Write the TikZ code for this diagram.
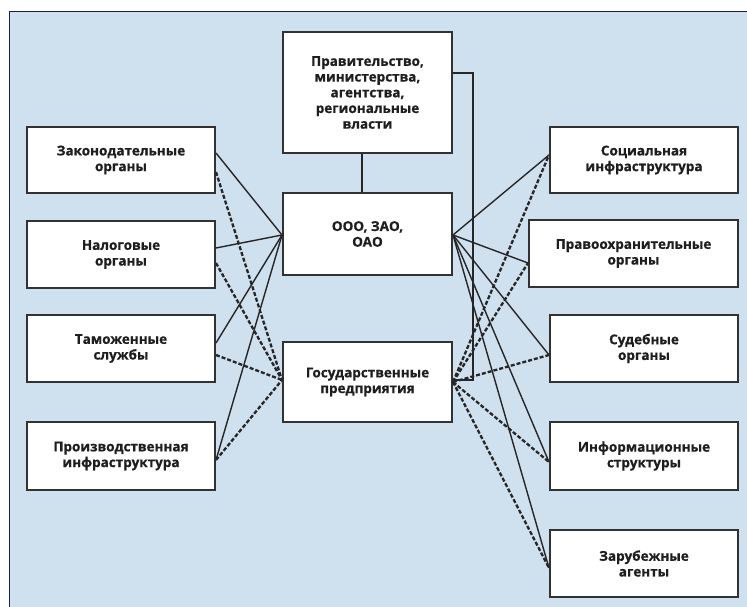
\documentclass[tikz,border=0pt]{standalone}
\usepackage{fontspec}
\setmainfont{Open Sans}[BoldFeatures={FakeBold=0.6}]
\usetikzlibrary{calc}
\definecolor{bgblue}{RGB}{207,224,239}
\definecolor{framenavy}{RGB}{30,30,70}
\definecolor{boxline}{RGB}{50,50,50}
\definecolor{txt}{RGB}{30,30,30}
\begin{document}
\begin{tikzpicture}[x=1pt,y=-1pt,
  box/.style={draw=boxline,line width=2pt,fill=white,align=center,text=txt,
    font=\fontsize{13.5}{15.7}\selectfont\bfseries,inner sep=0pt,
    minimum width=188pt,minimum height=66pt},
  solidln/.style={draw=black!85,line width=1.4pt},
  dashln/.style={draw=black!85,line width=2.3pt,dash pattern=on 4pt off 2pt}]
\useasboundingbox (0,0) rectangle (747,607);
\fill[bgblue] (9,12) rectangle (747,607);
\draw[framenavy,line width=1pt] (747,12) -- (9,12) -- (9,607);

% left
\node[box] (zak) at (121,160) {Законодательные\\органы};
\node[box,minimum height=67pt] (nal) at (121,254.5) {Налоговые\\органы};
\node[box,minimum height=67pt] (tam) at (121,348.5) {Таможенные\\службы};
\node[box,minimum height=68pt] (proizv) at (121,456) {Производственная\\инфраструктура};
% centre
\node[box,minimum width=169pt,minimum height=121pt] (gov) at (367.5,92.5)
  {Правительство,\\министерства,\\агентства,\\региональные\\власти};
\node[box,minimum width=169pt,minimum height=82pt] (ooo) at (367.5,234) {ООО, ЗАО,\\ОАО};
\node[box,minimum width=169pt,minimum height=80pt] (gos) at (367.5,382) {Государственные\\предприятия};
% right
\node[box] (soc) at (644,160) {Социальная\\инфраструктура};
\node[box,minimum width=209pt,minimum height=67pt] (pravo) at (633.5,253.5) {Правоохранительные\\органы};
\node[box,minimum height=67pt] (sud) at (644,348.5) {Судебные\\органы};
\node[box,minimum height=68pt] (inf) at (644,456) {Информационные\\структуры};
\node[box,minimum height=67pt] (zar) at (644,563.5) {Зарубежные\\агенты};

% anchor points
\coordinate (zakS) at ($(zak.east)+(0,-7)$);
\coordinate (zakD) at ($(zak.east)+(0,12)$);
\coordinate (nalS) at ($(nal.east)+(0,-6.5)$);
\coordinate (nalD) at ($(nal.east)+(0,8.5)$);
\coordinate (tamS) at ($(tam.east)+(0,-5.5)$);
\coordinate (tamD) at ($(tam.east)+(0,6.5)$);
\coordinate (proP) at ($(proizv.east)+(0,4)$);
\coordinate (socP) at ($(soc.west)+(0,-5)$);
\coordinate (praP) at ($(pravo.west)+(0,9.5)$);
\coordinate (sudP) at ($(sud.west)+(0,6.5)$);
\coordinate (infP) at ($(inf.west)+(0,6)$);
\coordinate (zarP) at ($(zar.west)+(0,4.5)$);
\coordinate (oooL) at ($(ooo.west)+(0,1)$);
\coordinate (oooR) at ($(ooo.east)+(0,1)$);
\coordinate (gosL) at ($(gos.west)+(0,-2)$);
\coordinate (gosR) at (gos.east);
\coordinate (govR) at ($(gov.east)+(0,-19.5)$);
\coordinate (govB) at ($(gov.south)+(-5.5,0)$);
\coordinate (oooT) at ($(ooo.north)+(-5.5,0)$);

% hierarchy
\draw[solidln,line width=1.6pt] (govB) -- (oooT);
\draw[solidln,line width=1.6pt] (govR) -- ++(20,0) |- ($(gos.east)+(0,-2)$);

% left connections
\foreach \p in {zakS,nalS,tamS,proP} \draw[solidln] (\p) -- (oooL);
\foreach \p in {zakD,nalD,tamD,proP} \draw[dashln] (\p) -- (gosL);
% right connections
\foreach \p in {socP,praP,sudP,infP,zarP} \draw[solidln] (oooR) -- (\p);
\foreach \p in {socP,praP,sudP,infP,zarP} \draw[dashln] (gosR) -- (\p);
\end{tikzpicture}
\end{document}
